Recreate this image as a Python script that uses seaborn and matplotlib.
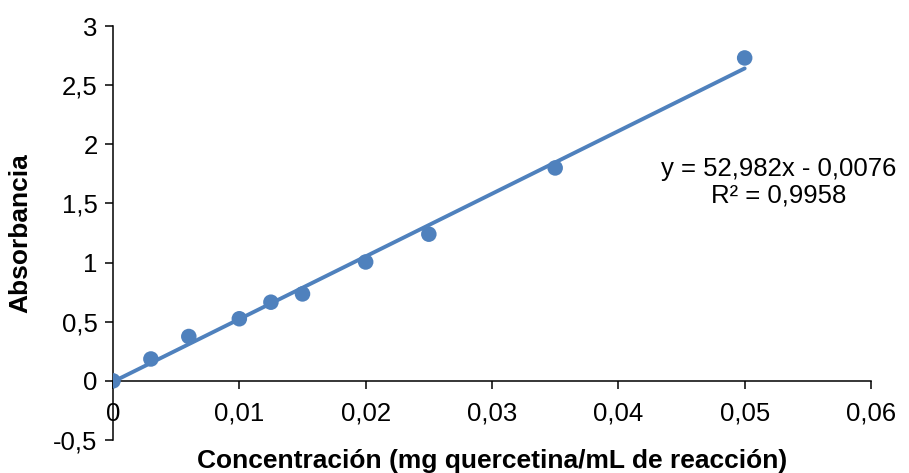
import numpy as np
import pandas as pd
import matplotlib
matplotlib.use("Agg")
import matplotlib.pyplot as plt
import seaborn as sns
from matplotlib.ticker import FuncFormatter

# Calibration data: quercetin concentration vs absorbance
concentracion = [0.0, 0.003, 0.006, 0.010, 0.0125, 0.015, 0.020, 0.025, 0.035, 0.050]
absorbancia = [0.0, 0.185, 0.375, 0.525, 0.665, 0.735, 1.005, 1.24, 1.80, 2.73]

# Linear trend line reported for the calibration
pendiente = 52.982
intercepto = -0.0076
r2 = 0.9958

x_ticks = [0, 0.01, 0.02, 0.03, 0.04, 0.05, 0.06]
y_ticks = [-0.5, 0, 0.5, 1, 1.5, 2, 2.5, 3]

sns.set_style("ticks")
plt.rcParams["font.family"] = ["Liberation Sans", "DejaVu Sans"]
plt.rcParams["text.color"] = "black"
plt.rcParams["axes.labelcolor"] = "black"

azul = "#4F81BD"
fs = 18.5

fig = plt.figure(figsize=(9.09, 4.73), dpi=100)
ax = fig.add_axes([113 / 909, 1 - 440 / 473, (871 - 113) / 909, (440 - 26) / 473])

df = pd.DataFrame({"x": concentracion, "y": absorbancia})
tx = np.array([min(concentracion), max(concentracion)])
tendencia = pd.DataFrame({"x": tx, "y": pendiente * tx + intercepto})

sns.lineplot(data=tendencia, x="x", y="y", ax=ax, color=azul, linewidth=2.8, zorder=2)
sns.scatterplot(data=df, x="x", y="y", ax=ax, color=azul, s=125, edgecolor="none", zorder=3)

ax.set_xlim(0, 0.06)
ax.set_ylim(-0.5, 3)
ax.set_xticks(x_ticks)
ax.set_yticks(y_ticks)


def coma(v, pos=None):
    s = f"{v:g}"
    return s.replace(".", ",")


ax.xaxis.set_major_formatter(FuncFormatter(coma))
ax.yaxis.set_major_formatter(FuncFormatter(coma))

ax.spines["top"].set_visible(False)
ax.spines["right"].set_visible(False)
ax.spines["bottom"].set_position(("data", 0))
for s in ("left", "bottom"):
    ax.spines[s].set_linewidth(1.1)
    ax.spines[s].set_color("black")

ax.tick_params(axis="both", which="major", labelsize=fs, length=6, width=1.1,
               direction="out", color="black", labelcolor="black")
ax.tick_params(axis="x", pad=9)
ax.tick_params(axis="y", pad=5)

ax.set_xlabel("Concentración (mg quercetina/mL de reacción)", fontsize=19,
              fontweight="bold", labelpad=0)
ax.xaxis.label.set_verticalalignment("center")
ax.xaxis.set_label_coords(0.5, -0.05)
ax.set_ylabel("Absorbancia", fontsize=19, fontweight="bold")
ax.yaxis.set_label_coords(-0.106, 0.5)

ecuacion = f"y = {coma(pendiente)}x - {coma(abs(intercepto))}\nR² = {coma(r2)}"
ax.text(0.0527, 1.68, ecuacion, fontsize=fs, ha="center", va="center",
        multialignment="center", linespacing=1.1)

fig.savefig("out.png", dpi=100)
